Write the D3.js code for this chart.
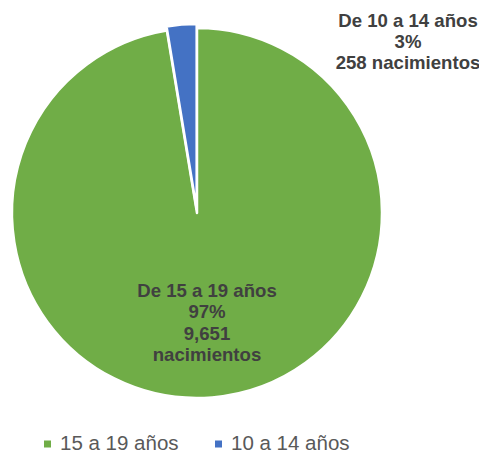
<!DOCTYPE html>
<html>
<head>
<meta charset="utf-8">
<script src="https://cdn.jsdelivr.net/npm/d3@7"></script>
<style>
html,body{margin:0;padding:0;background:#fff;}
svg{display:block;font-family:"Liberation Sans",Arial,sans-serif;}
</style>
</head>
<body>
<svg id="chart" width="479" height="454"></svg>
<script>
const categories = ["15 a 19 años", "10 a 14 años"];
const values = [9651, 258];
const percentLabels = ["97%", "3%"];
const countLabels = ["9,651", "258"];
const colors = ["#70AD47", "#4472C4"];

const svg = d3.select("#chart");
const cx = 197, cy = 213, R = 185;

const pie = d3.pie().sort(null).startAngle(0).endAngle(2 * Math.PI);
const arcs = pie(values);
const arc = d3.arc().innerRadius(0).outerRadius(R);

const g = svg.append("g").attr("transform", `translate(${cx},${cy})`);

const explode = [0, 4];
g.selectAll("path.slice")
  .data(arcs)
  .enter().append("path")
  .attr("class", "slice")
  .attr("d", arc)
  .attr("fill", (d, i) => colors[i])
  .attr("stroke", "#fff")
  .attr("stroke-width", 2.5)
  .attr("stroke-linejoin", "round")
  .attr("transform", (d, i) => {
    const a = (d.startAngle + d.endAngle) / 2;
    return `translate(${Math.sin(a) * explode[i]},${-Math.cos(a) * explode[i]})`;
  });

const labelStyle = t => t.attr("text-anchor", "middle")
  .attr("fill", "#404040")
  .attr("font-weight", "bold")
  .attr("font-size", "18.6px");

const gl = g.append("text").call(labelStyle)
  .attr("transform", "translate(10,0)");
const greenLines = ["De " + categories[0], percentLabels[0], countLabels[0], "nacimientos"];
greenLines.forEach((t, i) => {
  gl.append("tspan").attr("x", 0).attr("y", 84 + i * 21.3).text(t);
});

const bl = g.append("text").call(labelStyle);
const blueLines = ["De " + categories[1], percentLabels[1], countLabels[1] + " nacimientos"];
blueLines.forEach((t, i) => {
  bl.append("tspan").attr("x", 211).attr("y", -186 + i * 21).text(t);
});

const legend = svg.append("g").attr("transform", "translate(0,445)");
const legendX = [44, 215];
categories.forEach((c, i) => {
  const lg = legend.append("g").attr("transform", `translate(${legendX[i]},0)`);
  lg.append("rect").attr("x", 0).attr("y", -4.5).attr("width", 7).attr("height", 7).attr("fill", colors[i]);
  lg.append("text").attr("x", 16).attr("y", 4.5)
    .attr("fill", "#595959").attr("font-size", "20.5px").text(c);
});
</script>
</body>
</html>
